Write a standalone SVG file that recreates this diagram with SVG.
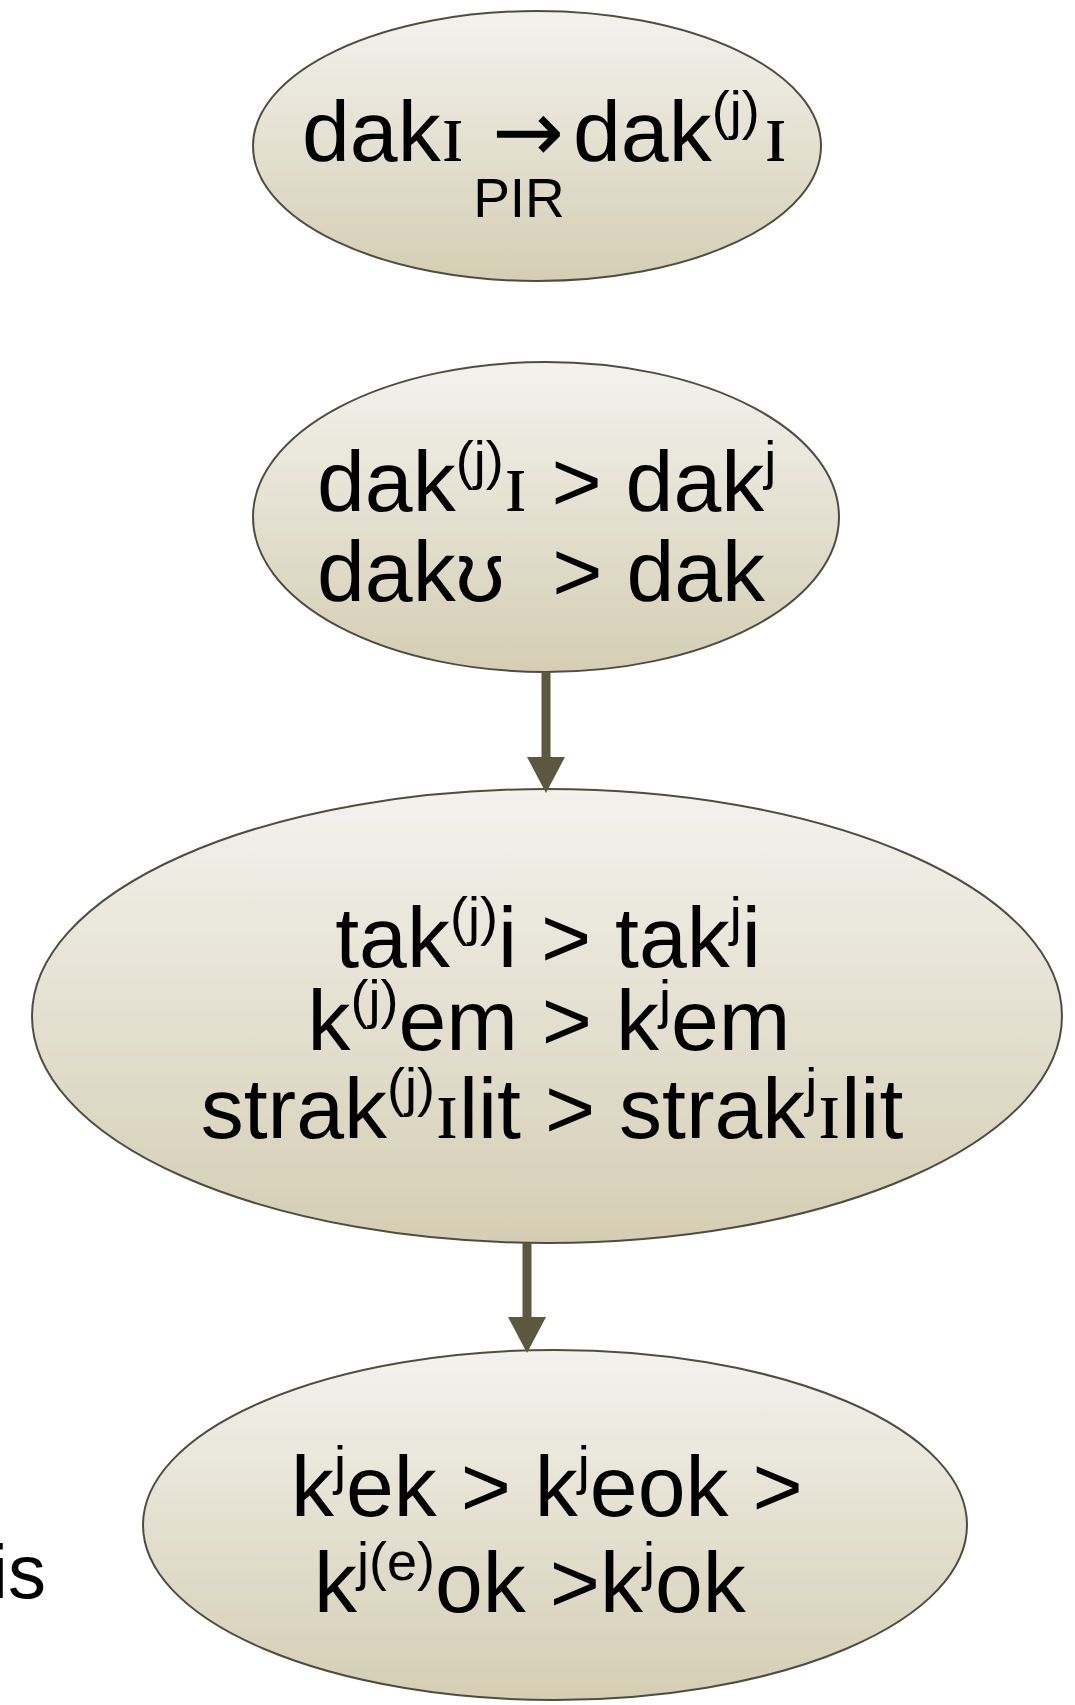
<svg xmlns="http://www.w3.org/2000/svg" width="1075" height="1705" viewBox="0 0 1075 1705">
<style>
.t{font-family:"Liberation Sans",Arial,"DejaVu Sans",sans-serif;font-size:86px;fill:#000;white-space:pre}
.s{font-size:54px}
.ipa{font-family:"Liberation Serif","DejaVu Serif",serif}
.arr{font-family:"DejaVu Sans",sans-serif;font-size:86px}
.node ellipse{fill:url(#g);stroke:#4f4d42;stroke-width:2}
.conn line{stroke:#5c5840;stroke-width:9;marker-end:url(#ah)}
</style>
<defs>
<linearGradient id="g" x1="0" y1="0" x2="0" y2="1">
<stop offset="0" stop-color="#f3f2ed"/>
<stop offset="1" stop-color="#d5ceb4"/>
</linearGradient>
<marker id="ah" markerUnits="userSpaceOnUse" markerWidth="36" markerHeight="38" refX="0" refY="18" orient="auto" viewBox="0 0 34 36">
<path d="M0,0 L34,18 L0,36 z" fill="#5c5840"/>
</marker>
</defs>
<g id="n1" class="node">
<ellipse cx="537" cy="146" rx="284" ry="135"/>
<text class="t" x="302" y="161">dak<tspan class="ipa">ɪ</tspan> <tspan class="arr" x="492">→</tspan><tspan x="573">dak</tspan><tspan class="s" dy="-32">(j)</tspan><tspan class="ipa" dx="4" dy="32">ɪ</tspan></text>
<text class="t" x="519" y="217" text-anchor="middle" style="font-size:55px">PIR</text>
</g>
<g id="n2" class="node">
<ellipse cx="546" cy="517" rx="293" ry="155"/>
<text class="t" x="317" y="511">dak<tspan class="s" dy="-32">(j)</tspan><tspan class="ipa" dy="32">ɪ</tspan> &gt; dak<tspan class="s" dy="-32">j</tspan></text>
<text class="t" x="317" y="601">dakʊ  &gt; dak</text>
</g>
<g id="n3" class="node">
<ellipse cx="547" cy="1016" rx="515" ry="227"/>
<text class="t" x="548" y="967" text-anchor="middle">tak<tspan class="s" dy="-32">(j)</tspan><tspan dy="32">i &gt; tak</tspan><tspan class="s" dy="-32">j</tspan><tspan dy="32">i</tspan></text>
<text class="t" x="549" y="1050" text-anchor="middle">k<tspan class="s" dy="-32">(j)</tspan><tspan dy="32">em &gt; k</tspan><tspan class="s" dy="-32">j</tspan><tspan dy="32">em</tspan></text>
<text class="t" x="552" y="1138" text-anchor="middle">strak<tspan class="s" dy="-32">(j)</tspan><tspan class="ipa" dy="32">ɪ</tspan>lit &gt; strak<tspan class="s" dy="-32">j</tspan><tspan class="ipa" dy="32">ɪ</tspan>lit</text>
</g>
<g id="n4" class="node">
<ellipse cx="555" cy="1525" rx="412" ry="175"/>
<text class="t" x="291" y="1516">k<tspan class="s" dy="-32">j</tspan><tspan dy="32">ek &gt; k</tspan><tspan class="s" dy="-32">j</tspan><tspan dy="32">eok &gt;</tspan></text>
<text class="t" x="314" y="1612">k<tspan class="s" dy="-32">j(e)</tspan><tspan dy="32">ok &gt;k</tspan><tspan class="s" dy="-32">j</tspan><tspan dy="32">ok</tspan></text>
</g>
<text class="t" x="46" y="1598" text-anchor="end" style="font-size:76px">is</text>
<g id="connectors" class="conn">
<line x1="546" y1="672" x2="546" y2="757"/>
<line x1="527" y1="1243" x2="527" y2="1317"/>
</g>
</svg>
